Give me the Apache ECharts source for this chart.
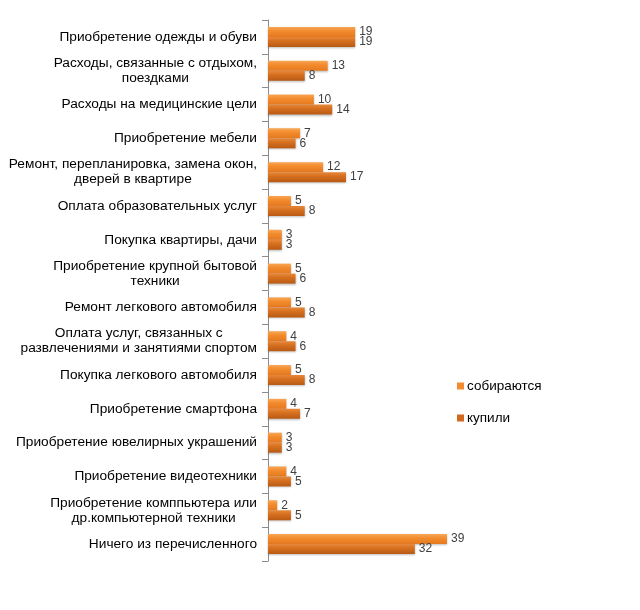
<!DOCTYPE html>
<html>
<head>
<meta charset="utf-8">
<script src="https://cdn.jsdelivr.net/npm/echarts@6/dist/echarts.min.js"></script>
<style>
html,body{margin:0;padding:0;background:#fff;}
#chart{width:640px;height:610px;}
</style>
</head>
<body>
<div id="chart"></div>
<script>
const categories = [
  "Приобретение одежды и обуви",
  "Расходы, связанные с отдыхом,\nпоездками",
  "Расходы на медицинские цели",
  "Приобретение мебели",
  "Ремонт, перепланировка, замена окон,\nдверей в квартире",
  "Оплата образовательных услуг",
  "Покупка квартиры, дачи",
  "Приобретение крупной бытовой\nтехники",
  "Ремонт легкового автомобиля",
  "Оплата услуг, связанных с\nразвлечениями и занятиями спортом",
  "Покупка легкового автомобиля",
  "Приобретение смартфона",
  "Приобретение ювелирных украшений",
  "Приобретение видеотехники",
  "Приобретение комппьютера или\nдр.компьютерной техники",
  "Ничего из перечисленного"
];
const seriesNames = ["собираются", "купили"];
const plannedValues = [19, 13, 10, 7, 12, 5, 3, 5, 5, 4, 5, 4, 3, 4, 2, 39];
const boughtValues  = [19, 8, 14, 6, 17, 8, 3, 6, 8, 6, 8, 7, 3, 5, 5, 32];

const chart = echarts.init(document.getElementById('chart'));
const grad = (c1, c2, c3) => new echarts.graphic.LinearGradient(0, 0, 0, 1, [
  {offset: 0, color: c1}, {offset: 0.4, color: c2}, {offset: 1, color: c3}
]);
const font = '"Liberation Sans", Arial, sans-serif';

chart.setOption({
  animation: false,
  backgroundColor: '#fff',
  grid: {left: 268, top: 20, bottom: 49, right: 165.5, containLabel: false},
  legend: {
    orient: 'vertical', left: 452, top: 374,
    itemWidth: 7, itemHeight: 7, itemGap: 18,
    icon: 'rect',
    textStyle: {fontFamily: font, fontSize: 13.5, color: '#000', padding: [0, 0, 0, -2]},
    data: [
      {name: seriesNames[0], itemStyle: {color: '#F28C2E'}},
      {name: seriesNames[1], itemStyle: {color: '#D2691F'}}
    ]
  },
  xAxis: {
    type: 'value', min: 0, max: 45,
    show: false
  },
  yAxis: {
    type: 'category', inverse: true, data: categories,
    axisLine: {show: true, lineStyle: {color: '#8c8c8c', width: 1}},
    axisTick: {show: true, length: 6, lineStyle: {color: '#8c8c8c'}},
    axisLabel: {
      margin: 11,
      fontFamily: font, fontSize: 13.7, color: '#000', lineHeight: 15,
      formatter: v => v.split('\n').map(s => '{c|' + s + '}').join('\n'),
      rich: {c: {align: 'center', fontFamily: font, fontSize: 13.7, color: '#000', lineHeight: 15}}
    },
    splitLine: {show: false}
  },
  series: [
    {
      name: seriesNames[0], type: 'bar', data: plannedValues,
      barWidth: 10, barGap: '0%',
      itemStyle: {color: grad('#F9A655', '#F28C2E', '#E5791F'), shadowColor: 'rgba(0,0,0,0.25)', shadowBlur: 2, shadowOffsetY: 1},
      label: {show: true, position: 'right', distance: 4, offset: [0, 0], fontFamily: font, fontSize: 12, color: '#404040'}
    },
    {
      name: seriesNames[1], type: 'bar', data: boughtValues,
      barWidth: 10,
      itemStyle: {color: grad('#E8883A', '#D6701F', '#B85A15'), shadowColor: 'rgba(0,0,0,0.25)', shadowBlur: 2, shadowOffsetY: 1},
      label: {show: true, position: 'right', distance: 4, offset: [0, 0], fontFamily: font, fontSize: 12, color: '#404040'}
    }
  ]
});
</script>
</body>
</html>
